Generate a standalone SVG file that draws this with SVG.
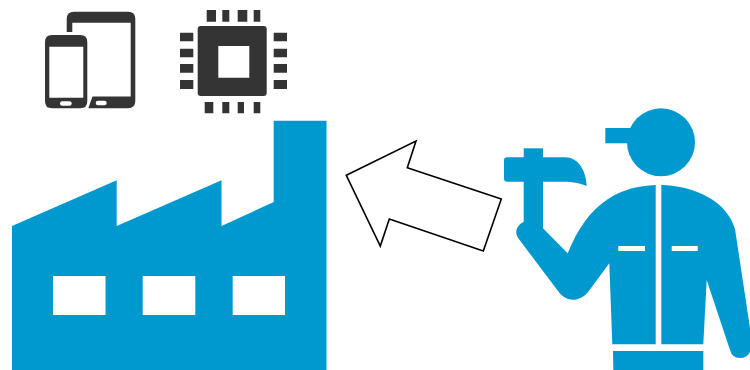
<svg xmlns="http://www.w3.org/2000/svg" width="750" height="370" viewBox="0 0 750 370">
<style>
.blue{fill:#0099cf}
.dark{fill:#353434}
.hole{fill:#fff}
.arrow{fill:#fff;stroke:#000;stroke-width:1.6;stroke-linejoin:miter}
</style>
<rect width="750" height="370" fill="#fff"/>
<g id="devices">
<path class="dark" fill-rule="evenodd" d="M66.7 32V19Q66.7 11.7 74 11.7H128Q135.3 11.7 135.3 19V101Q135.3 108.3 128 108.3H88.3L92.5 96.5H130.7V22.7H72.3V32Z"/>
<rect class="hole" x="95.7" y="100.7" width="11" height="4.6" rx="2.3"/>
<path class="dark" fill-rule="evenodd" d="M52 35H80.3Q87.3 35 87.3 42V101.3Q87.3 108.3 80.3 108.3H52Q45 108.3 45 101.3V42Q45 35 52 35ZM49.3 46.7V97.7H83.3V46.7Z"/>
<rect class="hole" x="60" y="101.3" width="11.7" height="4.4" rx="2.2"/>
</g>
<g id="chip">
<path class="dark" fill-rule="evenodd" d="M200.7 26H263.7Q266.7 26 266.7 29V93Q266.7 96 263.7 96H200.7Q197.7 96 197.7 93V29Q197.7 26 200.7 26ZM218.3 46V77.7H249.3V46Z"/>
<path class="dark" d="M206.7 10H216V21.7H206.7ZM222.3 10H229.3V21.7H222.3ZM237.7 10H247.3V21.7H237.7ZM253.7 10H260.3V21.7H253.7ZM204.7 102H213.3V113.3H204.7ZM222.3 102H229.3V113.3H222.3ZM237.7 102H244V113.3H237.7ZM253.7 102H260.3V113.3H253.7ZM180 32.7H193.3V41.3H180ZM180 48.7H193.3V57.3H180ZM180 64H193.3V72.7H180ZM180 80H193.3V89H180ZM273.7 32.7H287V41.3H273.7ZM273.7 48.7H287V57.3H273.7ZM273.7 64H287V72.7H273.7ZM273.7 80H287V89H273.7Z"/>
</g>
<g id="factory">
<path class="blue" fill-rule="evenodd" d="M12 226L116.7 180.3V226L221.5 180.3V226L273.7 202V120.7H326.5V370H12ZM53 276V315H105.5V276ZM142.7 276V315H195.3V276ZM232.7 276V315H285V276Z"/>
</g>
<g id="worker">
<circle class="blue" cx="661" cy="142.3" r="34"/>
<path class="blue" d="M605.3 128H634V143.3H605.3Z"/>
<path class="blue" d="M507 157.3H565C578 157.3 586 170 586.7 186C578 182 570 181.7 560 181.7H543V228.3L567.7 253.3C578 228 590 211 608 199C622 190 638 185.500 655.700 185V344.300H612.300L609.300 263.300L588.300 291.700C580 302 566 303 558 291L518.300 238.300C514 232 517 225 523.700 221.700V181.700H507Q504 181.700 504 178.700V160.300Q504 157.300 507 157.300Z"/>
<path class="blue" d="M523.700 148.300H543V160H523.700Z"/>
<path class="blue" d="M661.300 185C695 186 727 201 735 229L750 328V352Q747 358 740 358Q732 358 730 350L706.700 280L703.300 344.300H661.300Z"/>
<path class="blue" d="M613 351H703.300V370H613.300Z"/>
<rect class="hole" x="618.300" y="246" width="26.700" height="5"/>
<rect class="hole" x="671.700" y="246" width="26" height="5"/>
</g>
<g id="connectors">
<path class="arrow" d="M346.300 175.300L416 141L407.300 167.700L501.300 199L483.300 251L389.300 219L380.300 246Z"/>
</g>
</svg>
